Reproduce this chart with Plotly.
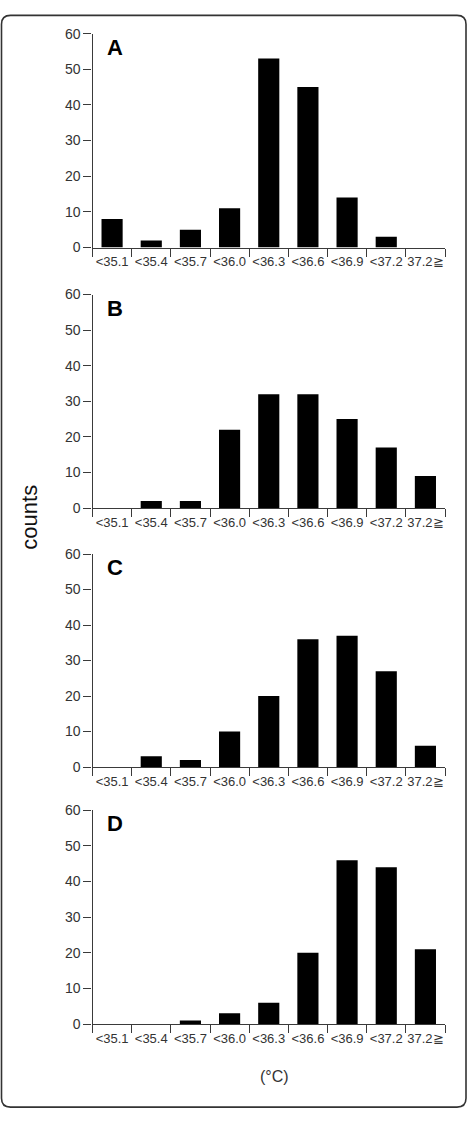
import plotly.graph_objects as go

W, H = 469, 1122

categories = ["<35.1", "<35.4", "<35.7", "<36.0", "<36.3", "<36.6", "<36.9", "<37.2", "37.2≧"]
counts_A = [8, 2, 5, 11, 53, 45, 14, 3, 0]
counts_B = [0, 2, 2, 22, 32, 32, 25, 17, 9]
counts_C = [0, 3, 2, 10, 20, 36, 37, 27, 6]
counts_D = [0, 0, 1, 3, 6, 20, 46, 44, 21]
panel_labels = ["A", "B", "C", "D"]
y_ticks = [0, 10, 20, 30, 40, 50, 60]

series = [counts_A, counts_B, counts_C, counts_D]
# pixel positions (zero line, top line) for each panel
panel_px = [(243.0, 26.0), (507.3, 290.7), (770.0, 554.0), (1030.7, 814.0)]
x_left_px, x_right_px = 92.5, 445.0

FONT = "Liberation Sans, Arial, Helvetica, sans-serif"
AXC = "#3a3a3a"
TXC = "#333333"

def px_x(p):
    return p / W

def px_y(p):
    return 1 - p / H

fig = go.Figure()
annotations = []
for i, vals in enumerate(series):
    n = i + 1
    xa = "x" if n == 1 else f"x{n}"
    ya = "y" if n == 1 else f"y{n}"
    fig.add_trace(go.Bar(
        x=categories, y=vals, xaxis=xa, yaxis=ya,
        marker=dict(color="#000000", line=dict(width=0)),
        width=0.54, showlegend=False, hoverinfo="x+y",
    ))
    zero_px, top_px = panel_px[i]
    xkey = "xaxis" if n == 1 else f"xaxis{n}"
    ykey = "yaxis" if n == 1 else f"yaxis{n}"
    fig.update_layout(**{
        xkey: dict(
            domain=[px_x(x_left_px), px_x(x_right_px)],
            anchor=ya, type="category", categoryorder="array", categoryarray=categories,
            range=[-0.5, 8.5], tickson="boundaries", ticks="outside", ticklen=8,
            tickwidth=1, tickcolor=AXC, showline=True, linecolor=AXC, linewidth=1.2,
            showgrid=False, zeroline=False, fixedrange=True, tickangle=0,
            ticklabelstandoff=2,
            tickfont=dict(family=FONT, size=13, color=TXC),
        ),
        ykey: dict(
            domain=[px_y(zero_px), px_y(top_px)],
            anchor=xa, range=[0, 60], tickvals=y_ticks, ticks="outside", ticklen=8,
            tickwidth=1, tickcolor=AXC, showline=True, linecolor=AXC, linewidth=1.2,
            showgrid=False, zeroline=False, fixedrange=True,
            tickfont=dict(family=FONT, size=14, color=TXC),
        ),
    })
    annotations.append(dict(
        text=f"<b>{panel_labels[i]}</b>", xref="paper", yref="paper",
        x=px_x(105), y=px_y(top_px - 1), xanchor="left", yanchor="top",
        showarrow=False, font=dict(family=FONT, size=22, color="#000000"),
    ))

annotations.append(dict(
    text="counts", xref="paper", yref="paper", x=px_x(30), y=px_y(517),
    xanchor="center", yanchor="middle", textangle=-90, showarrow=False,
    font=dict(family=FONT, size=22, color="#111111"),
))
annotations.append(dict(
    text="(°C)", xref="paper", yref="paper", x=px_x(274), y=px_y(1084),
    xanchor="center", yanchor="middle", showarrow=False,
    font=dict(family=FONT, size=16, color=TXC),
))

# rounded border
x0, x1 = px_x(1.5), px_x(466.0)
yt, yb = px_y(7.5), px_y(1115.0)
rx, ry = 9 / W, 9 / H
path = (f"M {x0+rx},{yt} L {x1-rx},{yt} Q {x1},{yt} {x1},{yt-ry} "
        f"L {x1},{yb+ry} Q {x1},{yb} {x1-rx},{yb} L {x0+rx},{yb} "
        f"Q {x0},{yb} {x0},{yb+ry} L {x0},{yt-ry} Q {x0},{yt} {x0+rx},{yt} Z")

fig.update_layout(
    width=W, height=H, autosize=False,
    margin=dict(l=0, r=0, t=0, b=0, pad=0),
    paper_bgcolor="white", plot_bgcolor="white",
    annotations=annotations,
    shapes=[dict(type="path", path=path, xref="paper", yref="paper",
                 line=dict(color="#333333", width=1.6), layer="above")],
    bargap=0.46,
)

fig.write_html("out.html", config={"displayModeBar": False})
